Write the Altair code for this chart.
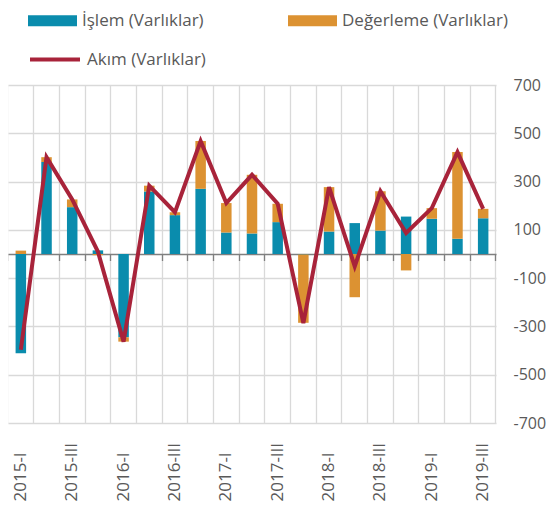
import altair as alt
import pandas as pd

quarters = ["2015-I", "2015-II", "2015-III", "2015-IV",
            "2016-I", "2016-II", "2016-III", "2016-IV",
            "2017-I", "2017-II", "2017-III", "2017-IV",
            "2018-I", "2018-II", "2018-III", "2018-IV",
            "2019-I", "2019-II", "2019-III"]
islem = [-411, 381, 194, 15, -345, 259, 161, 270, 89, 85, 132, -2, 93, 128, 97, 155, 146, 63, 148]
degerleme = [14, 20, 32, -5, -18, 24, 12, 198, 122, 243, 76, -283, 184, -179, 163, -68, 44, 359, 39]
akim = [-397, 401, 226, 10, -363, 283, 173, 468, 211, 328, 208, -286, 277, -51, 260, 87, 190, 422, 187]
y_ticks = [-700, -500, -300, -100, 100, 300, 500, 700]

S1 = "İşlem (Varlıklar)"
S2 = "Değerleme (Varlıklar)"
S3 = "Akım (Varlıklar)"

rows = []
for i, q in enumerate(quarters):
    rows.append({"q": q, "s": S1, "o": 0, "v": islem[i]})
    rows.append({"q": q, "s": S2, "o": 1, "v": degerleme[i]})
bars_df = pd.DataFrame(rows)
line_df = pd.DataFrame({"q": quarters, "s": S3, "v": akim})

W, H = 488, 338
FONT = "Open Sans"
GRAY = "#595959"

xscale = alt.Scale(domain=quarters, paddingInner=0, paddingOuter=0)
yscale = alt.Scale(domain=[-700, 700], nice=False, zero=False)
yaxis = alt.Axis(orient="right", values=y_ticks, grid=True, gridColor="#D9D9D9",
                 gridWidth=1.3, domain=False, ticks=False, labelPadding=17,
                 labelAlign="left", labelBaseline="middle", labelFont=FONT,
                 labelFontSize=16, labelColor=GRAY,
                 labelExpr="datum.value < 0 ? '-' + abs(datum.value) : '' + datum.value")

bars = alt.Chart(bars_df).mark_bar(size=10.5).encode(
    x=alt.X("q:N", scale=xscale, title=None,
            axis=alt.Axis(orient="bottom", grid=True, gridColor="#D9D9D9", gridWidth=1.3,
                          bandPosition=1, tickExtra=True, ticks=False, domain=False,
                          labelAngle=-90, labelAlign="left", labelBaseline="middle",
                          labelPadding=78,
                          labelExpr="test(regexp('-(I|III)$'), datum.value) ? datum.value : ''",
                          labelFont=FONT, labelFontSize=17, labelColor=GRAY)),
    y=alt.Y("v:Q", scale=yscale, stack="zero", title=None, axis=yaxis),
    fill=alt.Fill("s:N", scale=alt.Scale(domain=[S1, S2], range=["#0A8CAD", "#DC9232"]),
                  legend=alt.Legend(title=None, orient="none", legendX=20, legendY=-89,
                                    direction="horizontal", columns=2, columnPadding=84,
                                    symbolType="M-1,-0.225H1V0.225H-1Z", symbolSize=2401,
                                    symbolStrokeWidth=0, labelOffset=5,
                                    labelFont=FONT, labelFontSize=17, labelColor=GRAY,
                                    labelLimit=400)),
    order=alt.Order("o:Q"),
)

line = alt.Chart(line_df).mark_line(strokeWidth=4, strokeJoin="miter").encode(
    x=alt.X("q:N", scale=xscale, title=None,
            axis=alt.Axis(orient="bottom", offset=-H / 2, grid=False, labels=False,
                          bandPosition=1, tickExtra=True, ticks=True, tickSize=6.5,
                          tickColor="#7F7F7F", tickWidth=1.3, domain=True,
                          domainColor="#7F7F7F", domainWidth=1.5)),
    y=alt.Y("v:Q", scale=yscale, title=None, axis=yaxis),
    stroke=alt.Stroke("s:N", scale=alt.Scale(domain=[S3], range=["#A8233A"]),
                      legend=alt.Legend(title=None, orient="none", legendX=20, legendY=-52.5,
                                        symbolType="stroke", symbolSize=2500,
                                        symbolStrokeWidth=4, labelOffset=5,
                                        labelFont=FONT, labelFontSize=17,
                                        labelColor=GRAY, labelLimit=400)),
)

chart = alt.layer(bars, line).resolve_scale(
    fill="independent", stroke="independent"
).resolve_axis(x="independent").properties(
    width=W, height=H,
    autosize=alt.AutoSizeParams(type="none"),
    padding={"left": 0, "top": 77, "right": 51, "bottom": 80},
).configure_view(stroke=None)

chart.save("out.html", embed_options={"renderer": "svg", "actions": False})
